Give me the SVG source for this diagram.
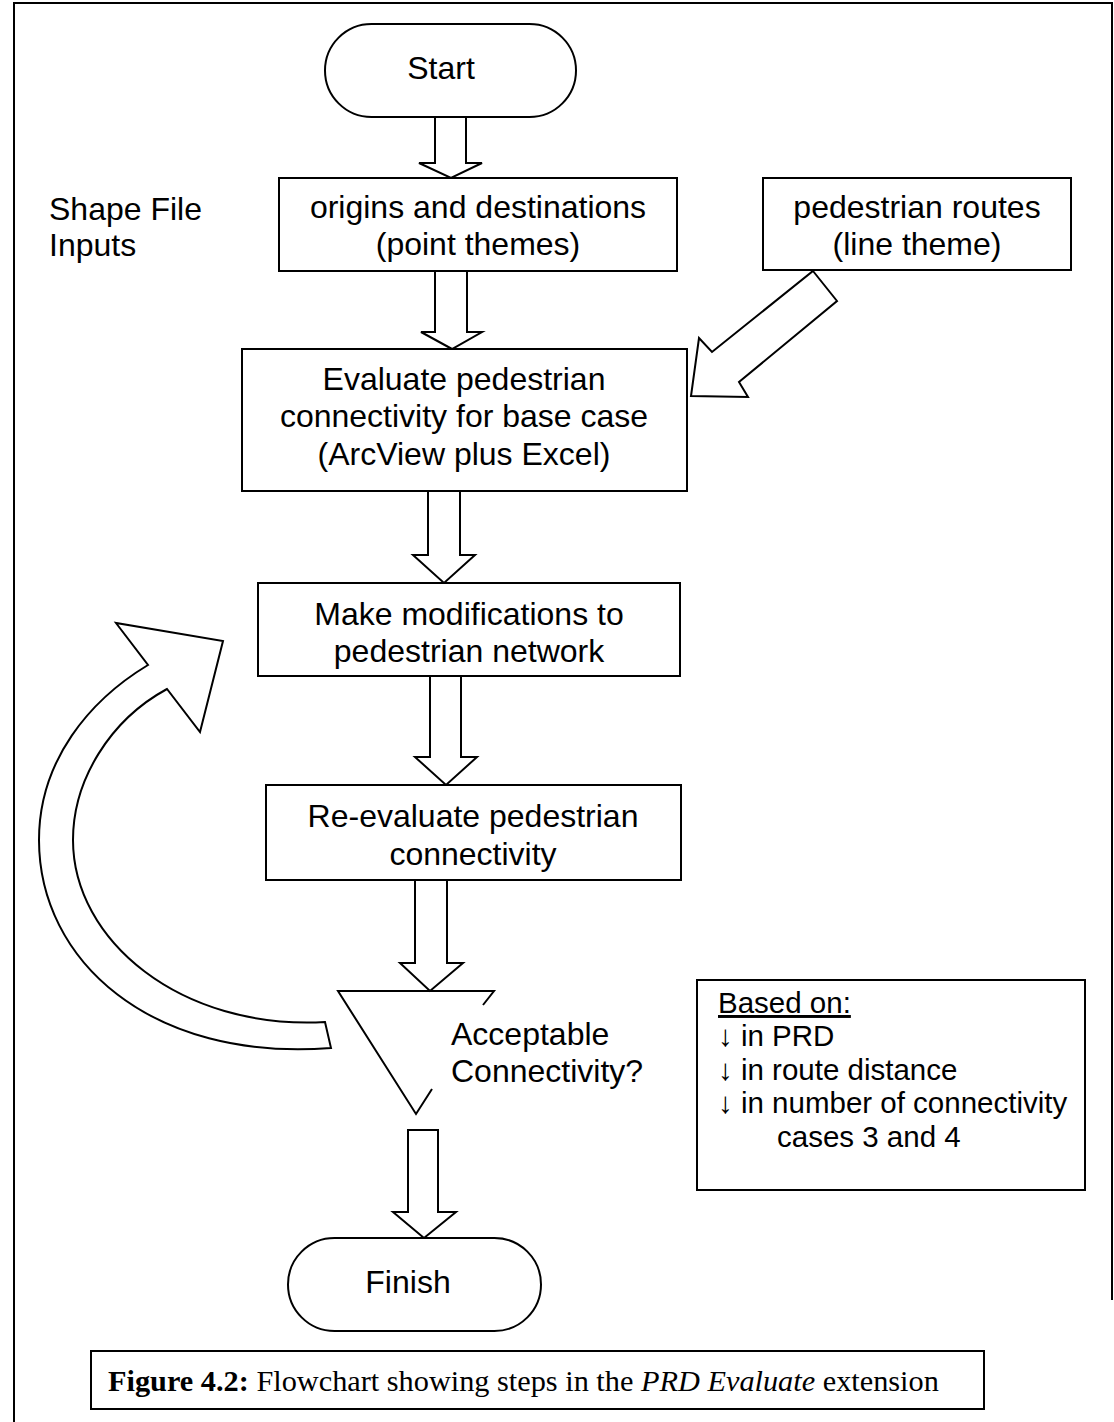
<svg xmlns="http://www.w3.org/2000/svg" width="1114" height="1422" viewBox="0 0 1114 1422">
  <style>
    .box { fill: #fff; stroke: #000; stroke-width: 2; }
    .arrow { fill: #fff; stroke: #000; stroke-width: 2; stroke-linejoin: miter; }
    .line { fill: none; stroke: #000; stroke-width: 2; }
    .t { font-family: "Liberation Sans", Arial, sans-serif; font-size: 32px; fill: #000; }
    .tc { text-anchor: middle; }
    .legend { font-family: "Liberation Sans", Arial, sans-serif; font-size: 29.5px; fill: #000; }
    .cap { font-family: "Liberation Serif", "Times New Roman", serif; font-size: 30.3px; fill: #000; }
  </style>

  <rect width="1114" height="1422" fill="#fff"/>

  <!-- page frame -->
  <g id="frame">
    <path class="line" d="M14,1422 V3 H1112 V1300"/>
  </g>

  <!-- connectors -->
  <g id="connectors">
    <polygon class="arrow" points="435,117 466,117 466,163 482,163 451,178 419,163 435,163"/>
    <polygon class="arrow" points="435,271 467,271 467,332 482,332 452,349 421,332 435,332"/>
    <polygon class="arrow" points="428,491 460,491 460,555 475,555 444,583 413,555 428,555"/>
    <polygon class="arrow" points="430,676 461,676 461,757 477,757 446,785 415,757 430,757"/>
    <polygon class="arrow" points="415,880 447,880 447,963 463,963 430,991 400,963 415,963"/>
    <polygon class="arrow" points="408,1130 438,1130 438,1212 456,1212 424,1238 393,1212 408,1212"/>
    <!-- pedestrian routes feeding the evaluation step -->
    <polygon class="arrow" points="813,271 837,301 739,382 748,397 691,396 699,338 712,352"/>
    <!-- loop back from the decision to the modification step -->
    <path class="arrow" d="M331,1048 C150,1062 39,960 39,840 C39,760 90,700 148,665 L116,623 L223,641 L200,732 L167,689 C110,720 73,780 73,840 C73,940 180,1030 325,1022 Z"/>
  </g>

  <g id="start">
    <rect class="box" x="325" y="24" width="251" height="93" rx="46.5" ry="46.5"/>
    <text class="t tc" x="441" y="79">Start</text>
  </g>

  <g id="shape-file-label">
    <text class="t" x="49" y="220">Shape File</text>
    <text class="t" x="49" y="256">Inputs</text>
  </g>

  <g id="origins">
    <rect class="box" x="279" y="178" width="398" height="93"/>
    <text class="t tc" x="478" y="218">origins and destinations</text>
    <text class="t tc" x="478" y="255">(point themes)</text>
  </g>

  <g id="routes">
    <rect class="box" x="763" y="178" width="308" height="92"/>
    <text class="t tc" x="917" y="218">pedestrian routes</text>
    <text class="t tc" x="917" y="255">(line theme)</text>
  </g>

  <g id="evaluate">
    <rect class="box" x="242" y="349" width="445" height="142"/>
    <text class="t tc" x="464" y="390">Evaluate pedestrian</text>
    <text class="t tc" x="464" y="427">connectivity for base case</text>
    <text class="t tc" x="464" y="465">(ArcView plus Excel)</text>
  </g>

  <g id="modify">
    <rect class="box" x="258" y="583" width="422" height="93"/>
    <text class="t tc" x="469" y="625">Make modifications to</text>
    <text class="t tc" x="469" y="662">pedestrian network</text>
  </g>

  <g id="reevaluate">
    <rect class="box" x="266" y="785" width="415" height="95"/>
    <text class="t tc" x="473" y="827">Re-evaluate pedestrian</text>
    <text class="t tc" x="473" y="865">connectivity</text>
  </g>

  <g id="decision">
    <path class="line" d="M432,1089 L416,1114 L338,991 H494 L483,1005"/>
    <text class="t" x="451" y="1045">Acceptable</text>
    <text class="t" x="451" y="1082">Connectivity?</text>
  </g>

  <g id="criteria">
    <rect class="box" x="697" y="980" width="388" height="210"/>
    <text class="legend" x="718" y="1013" text-decoration="underline">Based on:</text>
    <text class="legend" x="718" y="1046">↓ in PRD</text>
    <text class="legend" x="718" y="1080">↓ in route distance</text>
    <text class="legend" x="718" y="1113">↓ in number of connectivity</text>
    <text class="legend" x="777" y="1147">cases 3 and 4</text>
  </g>

  <g id="finish">
    <rect class="box" x="288" y="1238" width="253" height="93" rx="46.5" ry="46.5"/>
    <text class="t tc" x="408" y="1293">Finish</text>
  </g>

  <g id="caption">
    <rect class="box" x="91" y="1351" width="893" height="58"/>
    <text class="cap" x="108" y="1391"><tspan font-weight="bold">Figure 4.2:</tspan> Flowchart showing steps in the <tspan font-style="italic">PRD Evaluate</tspan> extension</text>
  </g>
</svg>
